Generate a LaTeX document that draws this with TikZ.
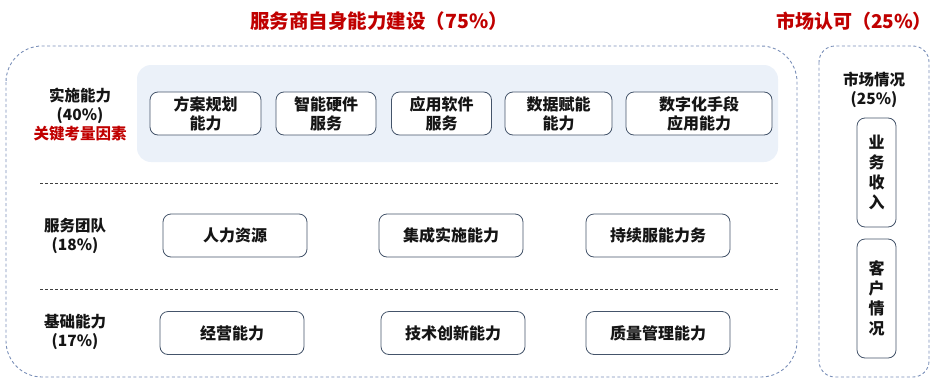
\documentclass[tikz,border=0pt]{standalone}
\usepackage{fontspec}
\setmainfont{Noto Sans CJK SC}
\definecolor{myred}{HTML}{C00000}
\definecolor{dashblue}{HTML}{7A8FB8}
\definecolor{panel}{HTML}{EBF1F9}
\definecolor{boxline}{HTML}{44546A}
\definecolor{txt}{HTML}{151515}
\tikzset{
  title/.style={font=\fontsize{19.5}{22}\selectfont\bfseries, text=myred, inner sep=0pt},
  rowlabel/.style={font=\fontsize{15.5}{19}\selectfont\bfseries, text=txt, align=center, inner sep=0pt},
  capbox/.style={draw=boxline, line width=0.8pt, rounded corners=8pt, fill=white,
     font=\fontsize{16}{19}\selectfont\bfseries, text=txt, align=center, inner sep=0pt},
  outerbox/.style={draw=dashblue, line width=0.9pt, dash pattern=on 3pt off 2.5pt},
  sepline/.style={draw=black!75, line width=0.9pt, dash pattern=on 3pt off 2pt},
}
\begin{document}
\begin{tikzpicture}[x=1pt,y=-1pt]
\useasboundingbox (0,0) rectangle (931,378);
% titles
\node[title] (t1) at (379,21) {服务商自身能力建设（75\%）};
\node[title, font=\fontsize{19}{22}\selectfont\bfseries] (t2) at (854,21) {市场认可（25\%）};
% outer dashed boxes
\draw[outerbox, rounded corners=36pt] (6,46) rectangle (797,377);
\draw[outerbox, rounded corners=16pt] (819,46) rectangle (929,377);
% panel
\fill[panel, rounded corners=14pt] (137,65) rectangle (778,162);
% row 1
\node[rowlabel] (l1) at (80,106) {实施能力\\(40\%)};
\node[rowlabel, text=myred] (l1r) at (80,134) {关键考量因素};
\node[capbox, minimum width=111pt, minimum height=43pt] (a1) at (205.5,113.5) {方案规划\\能力};
\node[capbox, minimum width=100pt, minimum height=43pt] (a2) at (326,113.5) {智能硬件\\服务};
\node[capbox, minimum width=100pt, minimum height=43pt] (a3) at (441.5,113.5) {应用软件\\服务};
\node[capbox, minimum width=107pt, minimum height=43pt] (a4) at (558.5,113.5) {数据赋能\\能力};
\node[capbox, minimum width=146pt, minimum height=43pt] (a5) at (699,113.5) {数字化手段\\应用能力};
% separators
\coordinate (s1a) at (40,183);
\coordinate (s1b) at (779,183);
\coordinate (s2a) at (40,289);
\coordinate (s2b) at (779,289);
\draw[sepline] (s1a) -- (s1b);
\draw[sepline] (s2a) -- (s2b);
% row 2
\node[rowlabel] (l2) at (75,236) {服务团队\\(18\%)};
\node[capbox, minimum width=144pt, minimum height=43pt] (b1) at (235,235.5) {人力资源};
\node[capbox, minimum width=144pt, minimum height=43pt] (b2) at (451,235.5) {集成实施能力};
\node[capbox, minimum width=144pt, minimum height=43pt] (b3) at (658,235.5) {持续服能力务};
% row 3
\node[rowlabel] (l3) at (75,332) {基础能力\\(17\%)};
\node[capbox, minimum width=144pt, minimum height=43pt] (c1) at (232,333) {经营能力};
\node[capbox, minimum width=144pt, minimum height=43pt] (c2) at (453,333) {技术创新能力};
\node[capbox, minimum width=144pt, minimum height=43pt] (c3) at (658,333) {质量管理能力};
% right column
\node[rowlabel] (m0) at (874,90) {市场情况\\(25\%)};
\node[capbox, minimum width=39pt, minimum height=109pt, font=\fontsize{16}{20}\selectfont\bfseries] (m1) at (876.5,172.5) {业\\务\\收\\入};
\node[capbox, minimum width=39pt, minimum height=119pt, font=\fontsize{16}{20}\selectfont\bfseries] (m2) at (876.5,298.5) {客\\户\\情\\况};
\end{tikzpicture}
\end{document}
